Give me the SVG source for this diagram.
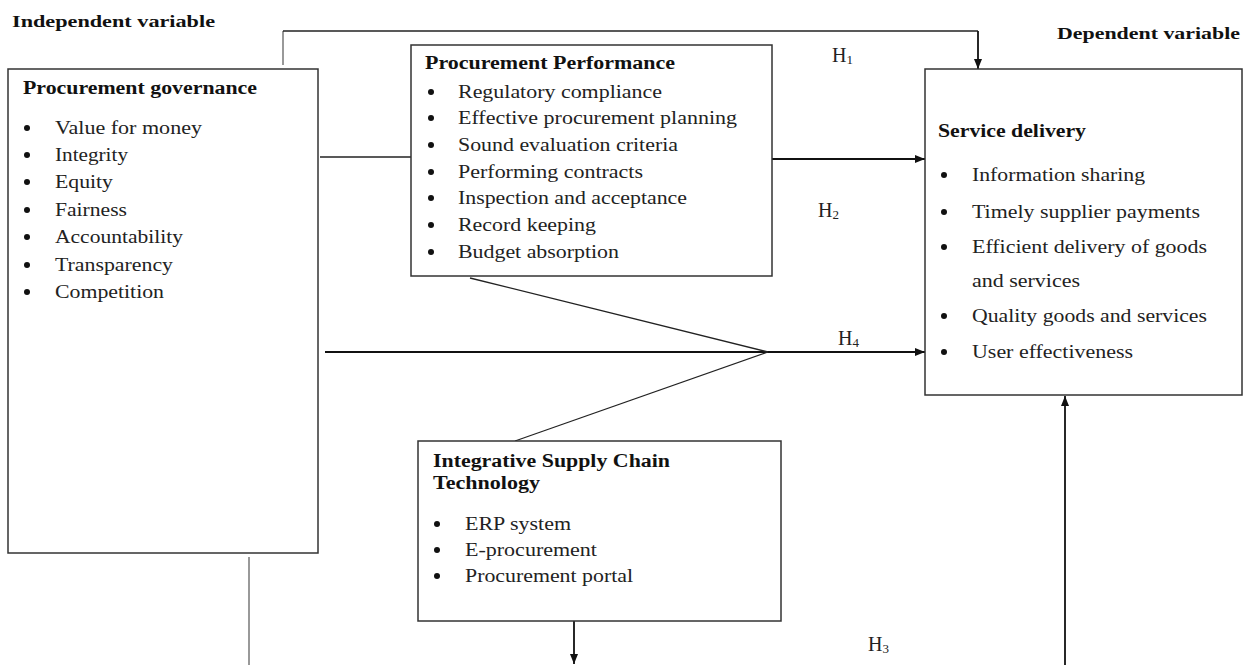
<svg xmlns="http://www.w3.org/2000/svg" width="1245" height="665" viewBox="0 0 1245 665">
<defs>
<marker id="ah" viewBox="0 0 10 8" refX="10" refY="4" markerWidth="10" markerHeight="8" markerUnits="userSpaceOnUse" orient="auto">
<path d="M0,0 L10,4 L0,8 z" fill="#111"/>
</marker>
</defs>
<style>
.box{fill:#fff;stroke:#333;stroke-width:1.5}
.t{font-family:"Liberation Serif","Times New Roman",serif;font-size:19.5px;fill:#222}
.b{font-family:"Liberation Serif","Times New Roman",serif;font-size:18px;font-weight:bold;fill:#111}
.lb{font-family:"Liberation Serif","Times New Roman",serif;font-size:16.5px;font-weight:bold;fill:#111}
.h{font-family:"Liberation Serif","Times New Roman",serif;font-size:20px;fill:#222}
.dot{fill:#111}
.ln{stroke:#222;stroke-width:1.3;fill:none}
.gr{stroke:#777;stroke-width:1.5;fill:none}
.ar{stroke:#111;stroke-width:1.8;fill:none;marker-end:url(#ah)}
</style>
<rect width="1245" height="665" fill="#fff"/>

<text class="lb" x="12" y="27" textLength="203" lengthAdjust="spacingAndGlyphs">Independent variable</text>
<text class="lb" x="1057" y="39" textLength="183" lengthAdjust="spacingAndGlyphs">Dependent variable</text>

<g id="connectors">
<polyline class="gr" points="283,65 283,31"/>
<line class="ln" x1="283" y1="31" x2="978" y2="31"/>
<line class="ar" x1="978" y1="31" x2="978" y2="69"/>
<line class="ln" x1="320" y1="157" x2="411" y2="157"/>
<line class="ar" x1="772" y1="159" x2="925" y2="159"/>
<line class="ar" x1="325" y1="352" x2="925" y2="352"/>
<line class="ln" x1="470" y1="278" x2="768" y2="352"/>
<line class="ln" x1="515" y1="441" x2="768" y2="352"/>
<line class="ar" x1="574" y1="621" x2="574" y2="664"/>
<line class="gr" x1="249" y1="557" x2="249" y2="665"/>
<line class="ar" x1="1065" y1="665" x2="1065" y2="396"/>
<text class="h" x="832" y="62">H<tspan font-size="13" dy="2">1</tspan></text>
<text class="h" x="818" y="217">H<tspan font-size="13" dy="2">2</tspan></text>
<text class="h" x="838" y="345">H<tspan font-size="13" dy="2">4</tspan></text>
<text class="h" x="868" y="651">H<tspan font-size="13" dy="2">3</tspan></text>
</g>

<g id="procurement-governance">
<rect class="box" x="8" y="69" width="310" height="484"/>
<text class="b" x="23" y="94" textLength="234" lengthAdjust="spacingAndGlyphs">Procurement governance</text>
<circle class="dot" cx="27" cy="128" r="3"/><text class="t" x="55" y="134" textLength="147" lengthAdjust="spacingAndGlyphs">Value for money</text>
<circle class="dot" cx="27" cy="155" r="3"/><text class="t" x="55" y="161" textLength="73" lengthAdjust="spacingAndGlyphs">Integrity</text>
<circle class="dot" cx="27" cy="182" r="3"/><text class="t" x="55" y="188" textLength="58" lengthAdjust="spacingAndGlyphs">Equity</text>
<circle class="dot" cx="27" cy="210" r="3"/><text class="t" x="55" y="216" textLength="72" lengthAdjust="spacingAndGlyphs">Fairness</text>
<circle class="dot" cx="27" cy="237" r="3"/><text class="t" x="55" y="243" textLength="128" lengthAdjust="spacingAndGlyphs">Accountability</text>
<circle class="dot" cx="27" cy="265" r="3"/><text class="t" x="55" y="271" textLength="118" lengthAdjust="spacingAndGlyphs">Transparency</text>
<circle class="dot" cx="27" cy="292" r="3"/><text class="t" x="55" y="298" textLength="109" lengthAdjust="spacingAndGlyphs">Competition</text>
</g>

<g id="procurement-performance">
<rect class="box" x="411" y="45" width="361" height="231"/>
<text class="b" x="425" y="69" textLength="250" lengthAdjust="spacingAndGlyphs">Procurement Performance</text>
<circle class="dot" cx="431" cy="92" r="3"/><text class="t" x="458" y="98" textLength="204" lengthAdjust="spacingAndGlyphs">Regulatory compliance</text>
<circle class="dot" cx="431" cy="118" r="3"/><text class="t" x="458" y="124" textLength="279" lengthAdjust="spacingAndGlyphs">Effective procurement planning</text>
<circle class="dot" cx="431" cy="145" r="3"/><text class="t" x="458" y="151" textLength="220" lengthAdjust="spacingAndGlyphs">Sound evaluation criteria</text>
<circle class="dot" cx="431" cy="172" r="3"/><text class="t" x="458" y="178" textLength="185" lengthAdjust="spacingAndGlyphs">Performing contracts</text>
<circle class="dot" cx="431" cy="198" r="3"/><text class="t" x="458" y="204" textLength="229" lengthAdjust="spacingAndGlyphs">Inspection and acceptance</text>
<circle class="dot" cx="431" cy="225" r="3"/><text class="t" x="458" y="231" textLength="138" lengthAdjust="spacingAndGlyphs">Record keeping</text>
<circle class="dot" cx="431" cy="252" r="3"/><text class="t" x="458" y="258" textLength="161" lengthAdjust="spacingAndGlyphs">Budget absorption</text>
</g>

<g id="service-delivery">
<rect class="box" x="925" y="69" width="317" height="326"/>
<text class="b" x="938" y="137" textLength="148" lengthAdjust="spacingAndGlyphs">Service delivery</text>
<circle class="dot" cx="944" cy="175" r="3"/><text class="t" x="972" y="181" textLength="173" lengthAdjust="spacingAndGlyphs">Information sharing</text>
<circle class="dot" cx="944" cy="212" r="3"/><text class="t" x="972" y="218" textLength="228" lengthAdjust="spacingAndGlyphs">Timely supplier payments</text>
<circle class="dot" cx="944" cy="247" r="3"/><text class="t" x="972" y="253" textLength="235" lengthAdjust="spacingAndGlyphs">Efficient delivery of goods</text>
<text class="t" x="972" y="287" textLength="108" lengthAdjust="spacingAndGlyphs">and services</text>
<circle class="dot" cx="944" cy="316" r="3"/><text class="t" x="972" y="322" textLength="235" lengthAdjust="spacingAndGlyphs">Quality goods and services</text>
<circle class="dot" cx="944" cy="352" r="3"/><text class="t" x="972" y="358" textLength="161" lengthAdjust="spacingAndGlyphs">User effectiveness</text>
</g>

<g id="integrative-supply-chain-technology">
<rect class="box" x="418" y="441" width="363" height="180"/>
<text class="b" x="433" y="467" textLength="237" lengthAdjust="spacingAndGlyphs">Integrative Supply Chain</text>
<text class="b" x="433" y="489" textLength="107" lengthAdjust="spacingAndGlyphs">Technology</text>
<circle class="dot" cx="437" cy="524" r="3"/><text class="t" x="465" y="530" textLength="106" lengthAdjust="spacingAndGlyphs">ERP system</text>
<circle class="dot" cx="437" cy="550" r="3"/><text class="t" x="465" y="556" textLength="132" lengthAdjust="spacingAndGlyphs">E-procurement</text>
<circle class="dot" cx="437" cy="576" r="3"/><text class="t" x="465" y="582" textLength="168" lengthAdjust="spacingAndGlyphs">Procurement portal</text>
</g>
</svg>
